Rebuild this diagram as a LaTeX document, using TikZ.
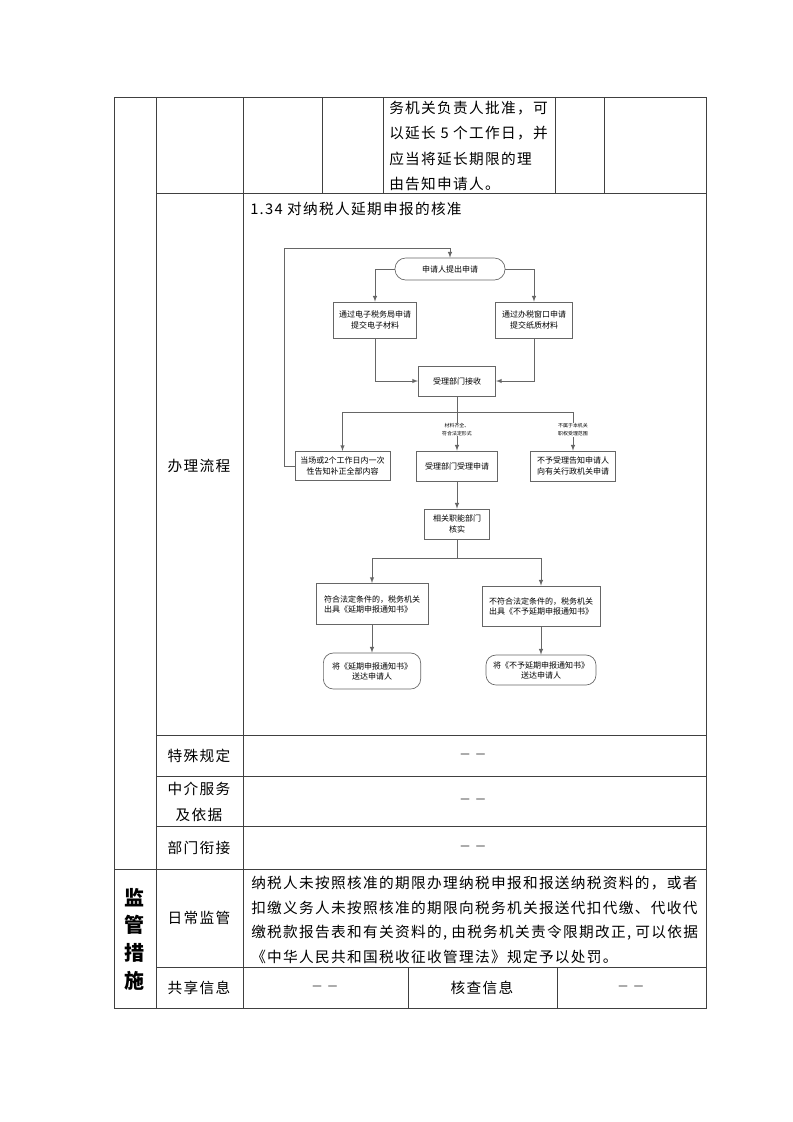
\documentclass[tikz,border=0pt]{standalone}
\usepackage{fontspec}
\newfontfamily\cjk{Noto Sans CJK SC}
\newfontfamily\cjksp[LetterSpace=9]{Noto Sans CJK SC}
\begin{document}
\begin{tikzpicture}[>=latex,x=0.75pt,y=-0.75pt,
  grid/.style={draw=black!75,line width=0.75pt},
  txt/.style={font=\cjksp\fontsize{11}{19.5}\selectfont,inner sep=0pt},
  nil/.style={font=\cjk\fontsize{8}{10}\selectfont,inner sep=0pt},
  flow/.style={draw=black!60,line width=0.5pt},
  box/.style={draw=black!60,line width=0.5pt,fill=white,font=\cjk\fontsize{6}{8.25}\selectfont,align=center,inner sep=1pt},
  note/.style={fill=white,font=\cjk\fontsize{3.7}{5.7}\selectfont,align=center,inner sep=0.5pt}]
\useasboundingbox (0,0) rectangle (793,1122);
% table
\draw[grid] (114,97) rectangle (706,1008);
\draw[grid] (156,97) -- (156,1008) (243,97) -- (243,1008);
\foreach \x in {322,383,555,604} \draw[grid] (\x,97) -- (\x,193);
\foreach \y in {193,735,776,826,967} \draw[grid] (156,\y) -- (706,\y);
\draw[grid] (114,869) -- (706,869);
\draw[grid] (408,967) -- (408,1008) (557,967) -- (557,1008);
\path
(389,146) node[txt,anchor=west,align=left,font=\cjksp\fontsize{11}{18.9}\selectfont] (ext) {务机关负责人批准，可\\以延长 5 个工作日，并\\应当将延长期限的理\\由告知申请人。}
(250,209) node[txt,anchor=west] (title) {1.34\hspace{0.3em}对纳税人延期申报的核准}
(199,466) node[txt] (proc) {办理流程}
(199,756) node[txt] (spec) {特殊规定}
(473,756) node[nil] (specv) {—\hspace{4.5pt}—}
(199,802) node[txt,align=center] (agent) {中介服务\\及依据}
(473,801) node[nil] (agentv) {—\hspace{4.5pt}—}
(199,848) node[txt] (link) {部门衔接}
(473,848) node[nil] (linkv) {—\hspace{4.5pt}—}
(134,939) node[txt,align=center,font=\cjk\bfseries\fontsize{15}{20.75}\selectfont] (sup) {监\\管\\措\\施}
(199,918) node[txt] (daily) {日常监管}
(251,920) node[txt,anchor=west,align=left,font=\cjksp\fontsize{11}{18.4}\selectfont] (rule) {纳税人未按照核准的期限办理纳税申报和报送纳税资料的，或者\\扣缴义务人未按照核准的期限向税务机关报送代扣代缴、代收代\\\makebox[335pt][s]{缴税款报告表和有关资料的, 由税务机关责令限期改正, 可以依据}\\《中华人民共和国税收征收管理法》规定予以处罚。}
(199,988) node[txt] (share) {共享信息}
(325,988) node[nil] (sharev) {—\hspace{4.5pt}—}
(482,988) node[txt] (check) {核查信息}
(631,988) node[nil] (checkv) {—\hspace{4.5pt}—};
% flow chart
\path
(450,269) node[box,minimum width=82.5pt,minimum height=16.5pt,rounded corners=8pt] (start) {申请人提出申请}
(375,320) node[box,minimum width=62pt,minimum height=27pt] (elec) {通过电子税务局申请\\提交电子材料}
(534,320) node[box,minimum width=58pt,minimum height=27pt] (win) {通过办税窗口申请\\提交纸质材料}
(457,381) node[box,minimum width=58pt,minimum height=22.5pt] (recv) {受理部门接收}
(342.5,466) node[box,minimum width=71pt,minimum height=22pt] (notify) {当场或2个工作日内一次\\性告知补正全部内容}
(457,466) node[box,minimum width=61pt,minimum height=22.5pt] (accept) {受理部门受理申请}
(573,466) node[box,minimum width=64pt,minimum height=22.5pt] (reject) {不予受理告知申请人\\向有关行政机关申请}
(457,524) node[box,minimum width=49pt,minimum height=22.5pt] (verify) {相关职能部门\\核实}
(372,604) node[box,align=left,font=\cjk\fontsize{6}{7.5}\selectfont,minimum width=84pt,minimum height=31pt] (okbox) {符合法定条件的，税务机关\\出具《延期申报通知书》}
(541,606) node[box,align=left,font=\cjk\fontsize{6}{7.5}\selectfont,minimum width=88.5pt,minimum height=30pt] (nobox) {不符合法定条件的，税务机关\\出具《不予延期申报通知书》}
(372,671) node[box,font=\cjk\fontsize{6}{7.5}\selectfont,minimum width=73pt,minimum height=27pt,rounded corners=7.5pt] (okend) {将《延期申报通知书》\\送达申请人}
(541,670) node[box,font=\cjk\fontsize{6}{7.5}\selectfont,minimum width=82.5pt,minimum height=22.5pt,rounded corners=7.5pt] (noend) {将《不予延期申报通知书》\\送达申请人};
\coordinate (fork) at (457,412);
\coordinate (loop) at (284,248);
\coordinate (fork2) at (457,558);
\draw[flow,->] (start.west) -| (elec);
\draw[flow,->] (start.east) -| (win);
\draw[flow,->] (elec) |- (recv);
\draw[flow,->] (win) |- (recv);
\draw[flow] (recv) -- (fork);
\draw[flow,->] (fork) -- node[note,pos=0.45] (okmark) {材料齐全、\\符合法定形式} (accept);
\draw[flow,->] (fork) -| (notify);
\draw[flow,->] (fork) -| node[note,pos=0.73] (nomark) {不属于本机关\\职权受理范围} (reject);
\draw[flow,->] (notify.west) -| (loop) -| (start);
\draw[flow,->] (accept) -- (verify);
\draw[flow] (verify) -- (fork2);
\draw[flow,->] (fork2) -| (okbox);
\draw[flow,->] (fork2) -| (nobox);
\draw[flow,->] (okbox) -- (okend);
\draw[flow,->] (nobox) -- (noend);
\end{tikzpicture}
\end{document}
